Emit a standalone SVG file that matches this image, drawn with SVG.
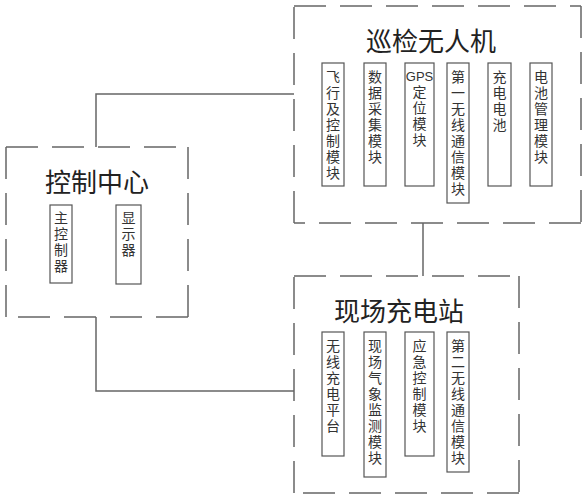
<svg xmlns="http://www.w3.org/2000/svg" width="587" height="500" viewBox="0 0 587 500">
<style>
.frame{fill:none;stroke:#666;stroke-width:1.5;stroke-dasharray:32 14}
.box{fill:#fff;stroke:#555;stroke-width:1.2}
.conn{fill:none;stroke:#666;stroke-width:1.5}
.title{font-family:"Noto Sans CJK SC",sans-serif;font-size:26px;fill:#222;text-anchor:middle}
.lbl{font-family:"Noto Sans CJK SC",sans-serif;font-size:14px;fill:#333;writing-mode:vertical-rl;letter-spacing:2px}
.lat{font-family:"Liberation Sans","Noto Sans CJK SC",sans-serif;font-size:13px;fill:#333;text-anchor:middle}
</style>
<rect width="587" height="500" fill="#fff"/>
<g id="connectors">
<polyline class="conn" points="96,147 96,94 294,94"/>
<line class="conn" x1="423" y1="223" x2="423" y2="276"/>
<polyline class="conn" points="96,317 96,391 294,391"/>
</g>
<g id="uav">
<path class="frame" d="M294,6H581 M581,6V223 M581,223H294 M294,223V6"/>
<text class="title" x="431" y="51">巡检无人机</text>
<g id="uav-flight"><rect class="box" x="322" y="63" width="22" height="123"/>
<text class="lbl" x="333" y="70">飞行及控制模块</text></g>
<g id="uav-data"><rect class="box" x="364" y="63" width="22" height="123"/>
<text class="lbl" x="375" y="70">数据采集模块</text></g>
<g id="uav-gps"><rect class="box" x="405" y="63" width="29" height="123"/>
<text class="lat" x="419.5" y="81">GPS</text>
<text class="lbl" x="419.5" y="85">定位模块</text></g>
<g id="uav-comm"><rect class="box" x="447" y="63" width="22" height="140"/>
<text class="lbl" x="458" y="70">第一无线通信模块</text></g>
<g id="uav-battery"><rect class="box" x="488" y="63" width="23" height="123"/>
<text class="lbl" x="499.5" y="70">充电电池</text></g>
<g id="uav-bms"><rect class="box" x="530" y="63" width="22" height="123"/>
<text class="lbl" x="541" y="70">电池管理模块</text></g>
</g>
<g id="control">
<path class="frame" d="M6,147H188 M188,147V317 M188,317H6 M6,317V147"/>
<text class="title" x="97" y="192">控制中心</text>
<g id="ctrl-main"><rect class="box" x="50" y="205" width="22" height="78"/>
<text class="lbl" x="61" y="211">主控制器</text></g>
<g id="ctrl-display"><rect class="box" x="116" y="205" width="25" height="79"/>
<text class="lbl" x="128.5" y="211">显示器</text></g>
</g>
<g id="station">
<path class="frame" d="M294,276H519 M519,276V493 M519,493H294 M294,493V276"/>
<text class="title" x="399" y="321">现场充电站</text>
<g id="st-platform"><rect class="box" x="322" y="332" width="22" height="124"/>
<text class="lbl" x="333" y="339">无线充电平台</text></g>
<g id="st-weather"><rect class="box" x="364" y="332" width="22" height="145"/>
<text class="lbl" x="375" y="339">现场气象监测模块</text></g>
<g id="st-emergency"><rect class="box" x="405" y="332" width="29" height="124"/>
<text class="lbl" x="419.5" y="339">应急控制模块</text></g>
<g id="st-comm"><rect class="box" x="447" y="332" width="22" height="140"/>
<text class="lbl" x="458" y="339">第二无线通信模块</text></g>
</g>
</svg>
